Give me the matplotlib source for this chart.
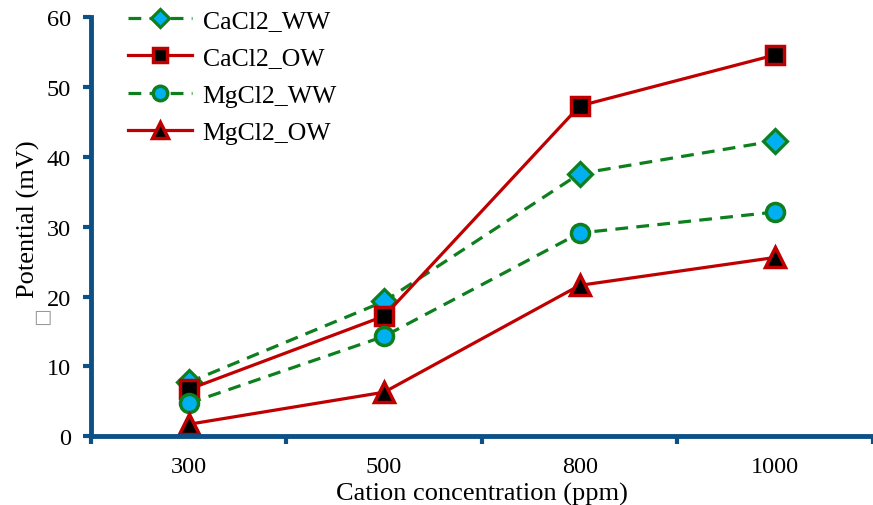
import numpy as np
import matplotlib.pyplot as plt

plt.rcParams['font.family'] = ['Liberation Serif', 'DejaVu Sans']

categories = ["300", "500", "800", "1000"]
cacl2_ww = [7.7, 19.3, 37.6, 42.3]
cacl2_ow = [6.7, 17.2, 47.3, 54.6]
mgcl2_ww = [4.7, 14.3, 29.1, 32.1]
mgcl2_ow = [1.7, 6.3, 21.6, 25.6]

green = '#0E7F1E'
red = '#C00000'
cyan = '#00B0F0'
blue = '#0B5086'

fig = plt.figure(figsize=(8.73, 5.06), dpi=100)
ax = fig.add_axes([0.104, 0.136, 0.896, 0.828])

x = np.arange(len(categories))
ax.plot(x, cacl2_ww, color=green, lw=2.3, ls=(0, (4, 2.6)), marker='D', ms=12,
        mfc=cyan, mec=green, mew=2.3, label='CaCl2_WW')
ax.plot(x, cacl2_ow, color=red, lw=2.3, marker='s', ms=13,
        mfc='black', mec=red, mew=2.5, label='CaCl2_OW')
ax.plot(x, mgcl2_ww, color=green, lw=2.3, ls=(0, (4, 2.6)), marker='o', ms=13,
        mfc=cyan, mec=green, mew=2.5, label='MgCl2_WW')
ax.plot(x, mgcl2_ow, color=red, lw=2.3, marker='^', ms=14,
        mfc='black', mec=red, mew=2.5, label='MgCl2_OW')

ax.set_xlim(-0.5, 3.5)
ax.set_ylim(0, 60)
ax.set_yticks(range(0, 61, 10))
ax.set_xticks(np.arange(-0.5, 3.6, 1))
ax.set_xticklabels([])
ax.set_xticks(x, minor=True)
ax.set_xticklabels(categories, minor=True)
ax.tick_params(axis='x', which='minor', length=0, labelsize=17.5, pad=14.5)
ax.tick_params(axis='y', which='major', pad=8.5)
ax.tick_params(axis='both', which='major', color=blue, width=3, length=6,
               labelsize=17.5, direction='out')

for s in ['top', 'right']:
    ax.spines[s].set_visible(False)
for s in ['left', 'bottom']:
    ax.spines[s].set_color(blue)
    ax.spines[s].set_linewidth(3.5)

ax.set_xlabel('Cation concentration (ppm)', fontsize=19, labelpad=3)
ax.set_ylabel('Potential (mV)', fontsize=19)
ax.yaxis.set_label_coords(-0.065, 0.52)

ax.legend(loc='upper left', bbox_to_anchor=(0.018, 1.074), frameon=False,
          fontsize=18.5, handlelength=2.5, labelspacing=0.55, handletextpad=0.4,
          markerscale=0.8)

fig.text(0.038, 0.362, '\u25a1', fontsize=14, color='#999999', family='DejaVu Sans')

fig.savefig('out.png', dpi=100)
